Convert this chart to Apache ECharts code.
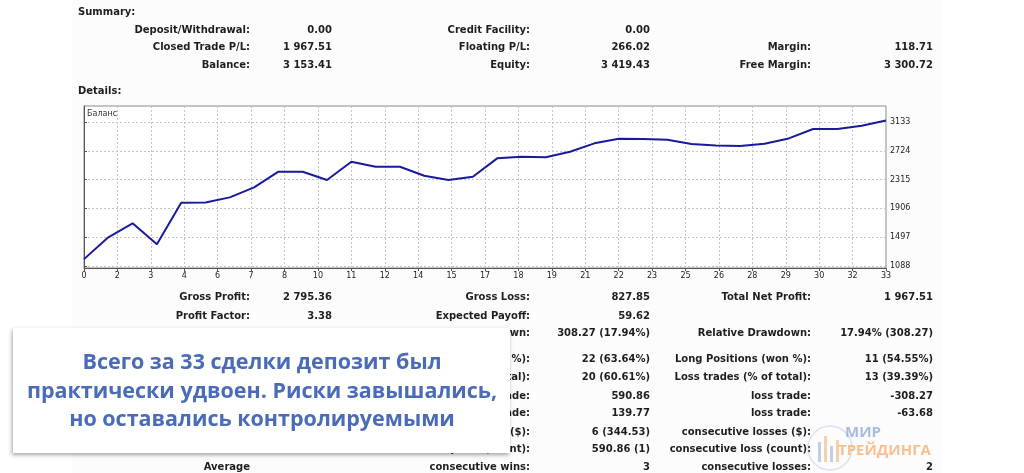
<!DOCTYPE html>
<html><head><meta charset="utf-8">
<script src="https://cdn.jsdelivr.net/npm/echarts@6.0.0/dist/echarts.min.js"></script>
<style>html,body{margin:0;padding:0;background:#fff;}#c{width:1024px;height:473px;}</style>
</head><body><div id="c"></div><script>
// ---- data ----
const trades = [0,1,2,3,4,5,6,7,8,9,10,11,12,13,14,15,16,17,18,19,20,21,22,23,24,25,26,27,28,29,30,31,32,33];
const balance = [1186,1496,1694,1396,1987,1990,2063,2205,2427,2427,2309,2569,2498,2498,2370,2309,2356,2617,2640,2631,2711,2830,2896,2893,2880,2820,2800,2792,2825,2900,3033,3033,3080,3153];
const yTicks = [1088,1497,1906,2315,2724,3133];
const xTickLabels = ['0','2','3','4','6','7','8','10','11','12','14','15','17','18','19','21','22','23','25','26','28','29','30','32','33'];
const seriesName = 'Баланс';

const summaryRows = [
  ['Deposit/Withdrawal:', '0.00', 'Credit Facility:', '0.00', '', ''],
  ['Closed Trade P/L:', '1 967.51', 'Floating P/L:', '266.02', 'Margin:', '118.71'],
  ['Balance:', '3 153.41', 'Equity:', '3 419.43', 'Free Margin:', '3 300.72']
];
const detailRows = [
  ['Gross Profit:', '2 795.36', 'Gross Loss:', '827.85', 'Total Net Profit:', '1 967.51'],
  ['Profit Factor:', '3.38', 'Expected Payoff:', '59.62', '', ''],
  ['', '', 'Maximal Drawdown:', '308.27 (17.94%)', 'Relative Drawdown:', '17.94% (308.27)'],
  ['', '', 'Short Positions (won %):', '22 (63.64%)', 'Long Positions (won %):', '11 (54.55%)'],
  ['', '', 'Profit Trades (% of total):', '20 (60.61%)', 'Loss trades (% of total):', '13 (39.39%)'],
  ['', '', 'profit trade:', '590.86', 'loss trade:', '-308.27'],
  ['', '', 'profit trade:', '139.77', 'loss trade:', '-63.68'],
  ['', '', 'consecutive wins ($):', '6 (344.53)', 'consecutive losses ($):', ''],
  ['', '', 'consecutive profit (count):', '590.86 (1)', 'consecutive loss (count):', ''],
  ['Average', '', 'consecutive wins:', '3', 'consecutive losses:', '2']
];
const overlayLines = ['Всего за 33 сделки депозит был', 'практически удвоен. Риски завышались,', 'но оставались контролируемыми'];

// ---- layout ----
const summaryY = [30, 47, 65];
const detailY = [297, 316, 333, 359, 377, 396, 413, 432, 449, 467];
const labelRight = [250, 530, 811];
const valueRight = [332, 650, 933];
const tableFont = 'bold 10px "DejaVu Sans", Verdana, sans-serif';
const tableColor = '#1e1e1e';

const graphics = [];
graphics.push({type:'rect', z:-10, silent:true, shape:{x:72,y:0,width:870,height:473}, style:{fill:'#fcfcfc'}});
function addText(t, x, y, align, font, fill, z) {
  if (!t) return;
  graphics.push({type:'text', z: z||1, silent:true, style:{text:t, x:x, y:y, textAlign:align, textVerticalAlign:'middle', font:font, fill:fill}});
}
addText('Summary:', 78, 12, 'left', tableFont, tableColor);
addText('Details:', 78, 91, 'left', tableFont, tableColor);
function addRows(rows, ys) {
  rows.forEach((r, i) => {
    for (let c = 0; c < 3; c++) {
      addText(r[c*2], labelRight[c], ys[i], 'right', tableFont, tableColor);
      addText(r[c*2+1], valueRight[c], ys[i], 'right', tableFont, tableColor);
    }
  });
}
addRows(summaryRows, summaryY);
addRows(detailRows, detailY);
addText(seriesName, 87, 114, 'left', '8px "DejaVu Sans", sans-serif', '#333', 5);

// overlay box
graphics.push({type:'rect', z:100, silent:true, shape:{x:13,y:328,width:497,height:125},
  style:{fill:'#ffffff', shadowBlur:4, shadowOffsetX:-1, shadowOffsetY:2, shadowColor:'rgba(0,0,0,0.35)'}});
const overlayY = [363, 392, 420];
overlayLines.forEach((t, i) => addText(t, 262, overlayY[i], 'center', 'bold 21.5px "Open Sans", "Noto Sans", sans-serif', '#4a6bb8', 101));

// watermark
const candles = [[818,442,3,20,'rgba(120,150,210,0.45)'],[824,436,3,26,'rgba(245,160,90,0.5)'],[830,446,3,16,'rgba(120,150,210,0.45)'],[836,440,3,22,'rgba(245,160,90,0.5)']];
candles.forEach(c => graphics.push({type:'rect', z:110, silent:true, shape:{x:c[0],y:c[1],width:c[2],height:c[3]}, style:{fill:c[4]}}));
graphics.push({type:'circle', z:109, silent:true, shape:{cx:830,cy:448,r:22}, style:{fill:'none', stroke:'rgba(150,175,225,0.35)', lineWidth:1.5}});
addText('МИР', 845, 433, 'left', 'bold 15px "Open Sans", sans-serif', 'rgba(120,150,215,0.65)', 111);
addText('ТРЕЙДИНГА', 838, 451, 'left', 'bold 15px "Open Sans", sans-serif', 'rgba(248,165,95,0.7)', 111);

const chart = echarts.init(document.getElementById('c'), null, {renderer:'canvas'});
chart.setOption({
  animation: false,
  backgroundColor: '#ffffff',
  grid: {left:84, right:138, top:106, bottom:205, show:true, borderColor:'#8a8a8a', borderWidth:1, backgroundColor:'#ffffff'},
  xAxis: {
    type:'value', min:0, max:33, interval:1.375,
    axisLine:{show:true, lineStyle:{color:'#555', width:1}},
    axisTick:{show:true, length:3, lineStyle:{color:'#555'}},
    axisLabel:{fontSize:8, color:'#222', margin:4, fontFamily:'DejaVu Sans', showMinLabel:true, showMaxLabel:true,
      formatter: v => xTickLabels[Math.round(v/1.375)]},
    splitLine:{show:true, lineStyle:{color:'#c4c4c4', type:[2,2], width:1}}
  },
  yAxis: {
    type:'value', position:'right', min:1060, max:3360,
    axisLine:{show:true, lineStyle:{color:'#555', width:1}},
    axisTick:{show:true, length:3, customValues:yTicks, lineStyle:{color:'#555'}},
    axisLabel:{fontSize:8, color:'#222', margin:4, fontFamily:'DejaVu Sans', customValues:yTicks, formatter: v => String(v)},
    splitLine:{show:true, lineStyle:{color:'#c4c4c4', type:[2,2], width:1}}
  },
  series: [{
    name: seriesName, type:'line', showSymbol:false, symbol:'none',
    data: trades.map((t, i) => [t, balance[i]]),
    lineStyle:{color:'#1a1a9c', width:2}
  }],
  graphic: graphics
});
</script></body></html>
